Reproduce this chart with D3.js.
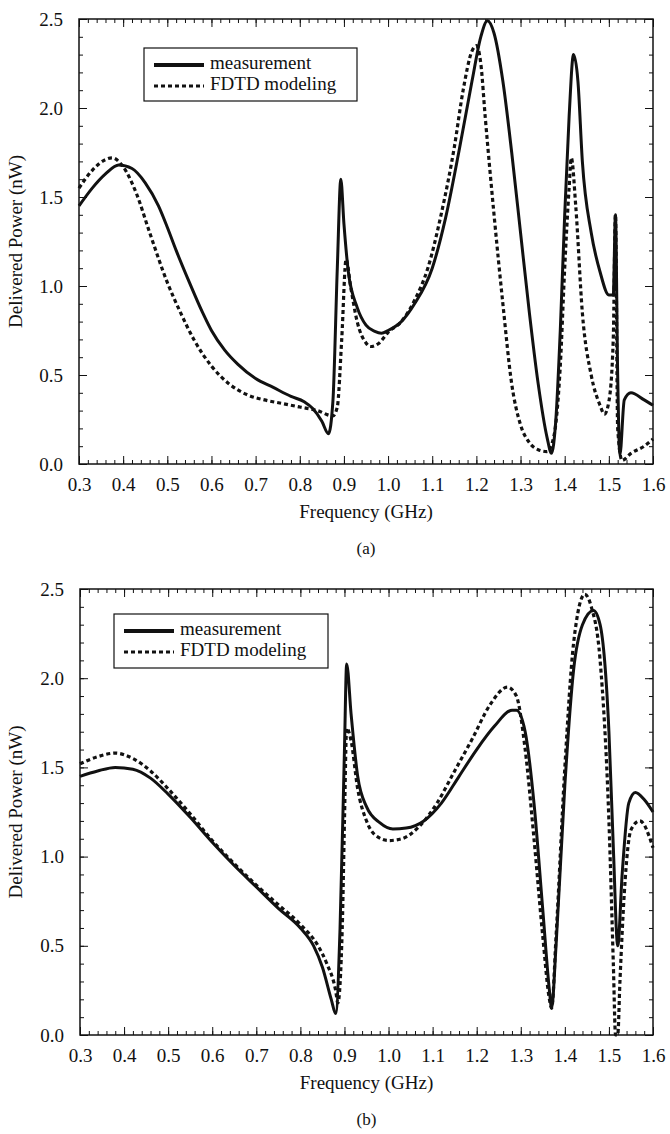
<!DOCTYPE html>
<html><head><meta charset="utf-8">
<script src="https://cdn.jsdelivr.net/npm/d3@7"></script>
<style>
body{margin:0;background:#fff;}
text{font-family:"Liberation Serif","Times New Roman",serif;fill:#111;}
</style></head>
<body><svg id="c" width="670" height="1134"></svg>
<script>
// ---------- data ----------
const xTicks = [0.3,0.4,0.5,0.6,0.7,0.8,0.9,1.0,1.1,1.2,1.3,1.4,1.5,1.6];
const yTicks = [0.0,0.5,1.0,1.5,2.0,2.5];
const seriesNames = ["measurement","FDTD modeling"];
const panelLabels = ["(a)","(b)"];

const aMeasF = [0.30,0.33,0.36,0.39,0.42,0.45,0.48,0.50,0.52,0.55,0.58,0.60,0.63,0.66,0.70,0.74,0.78,0.81,0.83,0.85,0.865,0.875,0.885,0.893,0.90,0.91,0.93,0.95,0.97,0.985,1.00,1.03,1.06,1.10,1.13,1.16,1.19,1.21,1.225,1.24,1.26,1.28,1.30,1.32,1.34,1.36,1.37,1.38,1.39,1.40,1.41,1.42,1.43,1.44,1.46,1.48,1.50,1.51,1.515,1.52,1.525,1.535,1.55,1.58,1.60];
const aMeasV = [1.45,1.55,1.63,1.68,1.66,1.58,1.45,1.33,1.20,1.02,0.85,0.75,0.64,0.56,0.48,0.43,0.38,0.35,0.31,0.24,0.17,0.35,1.10,1.60,1.35,1.08,0.88,0.78,0.745,0.735,0.75,0.80,0.90,1.10,1.38,1.75,2.15,2.40,2.49,2.42,2.15,1.75,1.30,0.85,0.45,0.15,0.06,0.25,0.75,1.40,1.95,2.30,2.15,1.70,1.30,1.08,0.95,0.95,1.40,0.50,0.05,0.36,0.40,0.36,0.33];
const aFdtdF = [0.30,0.33,0.36,0.375,0.40,0.43,0.46,0.50,0.53,0.56,0.60,0.64,0.68,0.72,0.76,0.80,0.84,0.875,0.885,0.895,0.905,0.915,0.93,0.95,0.96,0.98,1.00,1.03,1.06,1.09,1.12,1.15,1.17,1.19,1.20,1.21,1.22,1.24,1.26,1.28,1.30,1.32,1.34,1.36,1.375,1.39,1.40,1.41,1.415,1.425,1.44,1.46,1.48,1.49,1.50,1.51,1.515,1.52,1.53,1.55,1.58,1.60];
const aFdtdV = [1.55,1.65,1.71,1.72,1.67,1.52,1.30,1.02,0.85,0.70,0.55,0.45,0.39,0.36,0.34,0.32,0.30,0.27,0.32,0.70,1.15,1.00,0.80,0.68,0.66,0.68,0.74,0.80,0.92,1.10,1.40,1.78,2.10,2.32,2.35,2.25,1.95,1.40,0.90,0.45,0.22,0.12,0.08,0.07,0.15,0.55,1.10,1.55,1.72,1.45,0.85,0.50,0.33,0.28,0.35,0.70,1.40,0.20,0.02,0.06,0.10,0.14];

const bMeasF = [0.30,0.34,0.38,0.42,0.46,0.50,0.55,0.60,0.65,0.70,0.75,0.80,0.83,0.85,0.87,0.88,0.89,0.90,0.905,0.915,0.93,0.95,0.98,1.01,1.04,1.08,1.12,1.16,1.20,1.24,1.28,1.29,1.31,1.33,1.35,1.365,1.37,1.38,1.40,1.42,1.44,1.465,1.48,1.50,1.51,1.52,1.53,1.545,1.56,1.58,1.60];
const bMeasV = [1.45,1.48,1.50,1.49,1.44,1.35,1.22,1.08,0.95,0.83,0.71,0.60,0.50,0.38,0.20,0.12,0.60,1.60,2.08,1.80,1.45,1.28,1.19,1.155,1.16,1.20,1.30,1.45,1.60,1.73,1.82,1.82,1.70,1.30,0.70,0.25,0.15,0.50,1.40,2.05,2.30,2.38,2.30,1.70,1.05,0.50,0.90,1.30,1.36,1.32,1.25];
const bFdtdF = [0.30,0.34,0.38,0.42,0.46,0.50,0.55,0.60,0.65,0.70,0.75,0.80,0.84,0.86,0.88,0.885,0.895,0.90,0.905,0.915,0.93,0.95,0.97,1.00,1.03,1.07,1.11,1.15,1.19,1.23,1.27,1.29,1.31,1.33,1.35,1.365,1.37,1.38,1.40,1.42,1.445,1.46,1.48,1.50,1.51,1.515,1.52,1.525,1.535,1.55,1.57,1.60];
const bFdtdV = [1.52,1.56,1.58,1.55,1.48,1.38,1.24,1.09,0.96,0.84,0.73,0.62,0.50,0.40,0.25,0.18,0.60,1.20,1.72,1.65,1.38,1.20,1.12,1.09,1.10,1.17,1.30,1.48,1.66,1.85,1.95,1.90,1.60,1.10,0.55,0.20,0.15,0.55,1.50,2.20,2.47,2.40,2.10,1.20,0.40,0.00,0.00,0.30,0.80,1.15,1.20,1.05];

// ---------- drawing ----------
const svg = d3.select("#c");
const xMinor = d3.range(30,161,2).map(d=>d/100);
const yMinor = d3.range(0,26,1).map(d=>d/10);

const panels = [
  {x0:79,y0:19,w:574,h:445, meas:[aMeasF,aMeasV], fdtd:[aFdtdF,aFdtdV], leg:{x:144,y:48,w:213,h:53}, label:panelLabels[0]},
  {x0:80,y0:589,w:573,h:446, meas:[bMeasF,bMeasV], fdtd:[bFdtdF,bFdtdV], leg:{x:114,y:614,w:214,h:54}, label:panelLabels[1]}
];

panels.forEach(p=>{
  const g = svg.append("g").attr("transform",`translate(${p.x0},${p.y0})`);
  const x = d3.scaleLinear().domain([0.3,1.6]).range([0,p.w]);
  const y = d3.scaleLinear().domain([0,2.5]).range([p.h,0]);
  const fmt = d3.format(".1f");

  const ax = (gen, tr) => {
    const a = g.append("g").attr("transform",tr).call(gen);
    a.select(".domain").remove();
    a.selectAll("line").attr("stroke","#111").attr("stroke-width",1);
    return a;
  };
  ax(d3.axisBottom(x).tickValues(xMinor).tickSize(-4).tickFormat(""),`translate(0,${p.h})`);
  ax(d3.axisTop(x).tickValues(xMinor).tickSize(-4).tickFormat(""),`translate(0,0)`);
  ax(d3.axisLeft(y).tickValues(yMinor).tickSize(-4).tickFormat(""),`translate(0,0)`);
  ax(d3.axisRight(y).tickValues(yMinor).tickSize(-4).tickFormat(""),`translate(${p.w},0)`);
  const bx = ax(d3.axisBottom(x).tickValues(xTicks).tickSize(-8).tickPadding(14).tickFormat(fmt),`translate(0,${p.h})`);
  ax(d3.axisTop(x).tickValues(xTicks).tickSize(-8).tickFormat(""),`translate(0,0)`);
  const ly = ax(d3.axisLeft(y).tickValues(yTicks).tickSize(-8).tickPadding(16).tickFormat(fmt),`translate(0,0)`);
  ax(d3.axisRight(y).tickValues(yTicks).tickSize(-8).tickFormat(""),`translate(${p.w},0)`);
  [bx,ly].forEach(a=>a.selectAll("text").attr("font-family","Liberation Serif").attr("font-size",19).attr("fill","#111"));

  g.append("rect").attr("width",p.w).attr("height",p.h).attr("fill","none").attr("stroke","#111").attr("stroke-width",1.5);

  const line = d3.line().x(d=>x(d[0])).y(d=>y(d[1])).curve(d3.curveMonotoneX);
  const zip = (a,b)=>a.map((v,i)=>[v,b[i]]);
  const clip = "clip"+p.y0;
  g.append("clipPath").attr("id",clip).append("rect").attr("x",-2).attr("y",-2).attr("width",p.w+4).attr("height",p.h+4);
  g.append("path").attr("d",line(zip(...p.fdtd))).attr("fill","none").attr("stroke","#111").attr("stroke-width",3.2).attr("stroke-dasharray","4,3").attr("clip-path",`url(#${clip})`);
  g.append("path").attr("d",line(zip(...p.meas))).attr("fill","none").attr("stroke","#111").attr("stroke-width",3).attr("stroke-linejoin","round").attr("clip-path",`url(#${clip})`);

  g.append("text").attr("x",p.w/2).attr("y",p.h+54).attr("text-anchor","middle").attr("font-size",19).text("Frequency (GHz)");
  g.append("text").attr("transform",`translate(${-p.x0+18},${p.h/2}) rotate(-90)`).attr("text-anchor","middle").attr("dominant-baseline","middle").attr("font-size",19).text("Delivered Power (nW)");
  g.append("text").attr("x",p.w/2).attr("y",p.h+90).attr("text-anchor","middle").attr("font-size",17).text(p.label);

  const L = svg.append("g").attr("transform",`translate(${p.leg.x},${p.leg.y})`);
  L.append("rect").attr("width",p.leg.w).attr("height",p.leg.h).attr("fill","#fff").attr("stroke","#111").attr("stroke-width",1.2);
  seriesNames.forEach((s,i)=>{
    const yy = 17 + i*21;
    L.append("line").attr("x1",10).attr("x2",60).attr("y1",yy).attr("y2",yy).attr("stroke","#111")
      .attr("stroke-width", i===0?4:3.2).attr("stroke-dasharray", i===0?null:"4,3");
    L.append("text").attr("x",66).attr("y",yy).attr("dominant-baseline","middle").attr("font-size",19).text(s);
  });
});
</script></body></html>
